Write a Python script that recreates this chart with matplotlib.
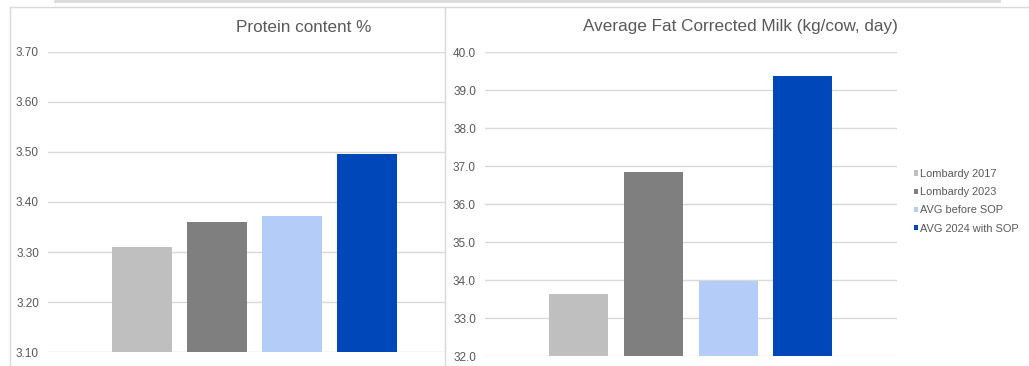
import matplotlib
matplotlib.use("Agg")
import matplotlib.pyplot as plt
from matplotlib.lines import Line2D

# Series (one bar per series in each panel)
series = ["Lombardy 2017", "Lombardy 2023", "AVG before SOP", "AVG 2024 with SOP"]
colors = ["#bfbfbf", "#7f7f7f", "#b4cdf8", "#0047b9"]

protein = [3.31, 3.36, 3.372, 3.495]
fcm = [33.63, 36.86, 33.98, 39.38]

protein_ticks = [3.10, 3.20, 3.30, 3.40, 3.50, 3.60, 3.70]
fcm_ticks = [32.0, 33.0, 34.0, 35.0, 36.0, 37.0, 38.0, 39.0, 40.0]

W, H = 1029, 366
TXT = "#595959"
GRID = "#d9d9d9"

plt.rcParams["font.family"] = ["Liberation Sans", "DejaVu Sans"]

fig = plt.figure(figsize=(W / 100, H / 100), dpi=100)
fig.patch.set_facecolor("white")


def px_rect(x0, x1, y_top, y_bot):
    return [x0 / W, 1 - y_bot / H, (x1 - x0) / W, (y_bot - y_top) / H]


def style_axis(ax, ticks, fmt, ymin, ymax, fontsize):
    ax.set_ylim(ymin, ymax)
    ax.set_yticks(ticks)
    ax.set_yticklabels([fmt.format(t) for t in ticks], color=TXT, fontsize=fontsize)
    ax.tick_params(axis="y", length=0, pad=6.5)
    ax.set_xticks([])
    for s in ax.spines.values():
        s.set_visible(False)
    ax.grid(axis="y", color=GRID, linewidth=1.0)
    ax.set_axisbelow(True)
    ax.patch.set_alpha(0)


x = list(range(len(series)))

# Left panel: protein content
ax1 = fig.add_axes(px_rect(48, 445, 51.7, 352.3))
ax1.bar(x, protein, width=0.79, color=colors)
style_axis(ax1, protein_ticks, "{:.2f}", 3.10, 3.70, 8.5)
ax1.set_xlim(-1.253, 4.04)

# Right panel: fat corrected milk
ax2 = fig.add_axes(px_rect(485, 897, 52.3, 356.3))
bars = ax2.bar(x, fcm, width=0.79, color=colors)
style_axis(ax2, fcm_ticks, "{:.1f}", 32.0, 40.0, 8.5)
ax2.set_xlim(-1.254, 4.261)

fig.text(304 / W, 1 - 27 / H, "Protein content %", ha="center", va="center",
         color=TXT, fontsize=12.3)
fig.text(740 / W, 1 - 26 / H, "Average Fat Corrected Milk (kg/cow, day)",
         ha="center", va="center", color=TXT, fontsize=12.3)

leg = fig.legend(bars, series, loc="upper left",
                 bbox_to_anchor=(914 / W, 1 - 169 / H),
                 frameon=False, fontsize=7.9, handlelength=0.38,
                 handleheight=0.38, handletextpad=0.2, labelspacing=0.75,
                 borderaxespad=0, borderpad=0)
for t in leg.get_texts():
    t.set_color(TXT)

# Panel frames
def fig_line(xs, ys, color=GRID, lw=1.0):
    fig.add_artist(Line2D([v / W for v in xs], [1 - v / H for v in ys],
                          color=color, linewidth=lw, transform=fig.transFigure))

fig_line([55, 999], [1, 1], lw=2.0)
fig_line([10, 1029], [7, 7])
fig_line([10, 10], [7, 366])
fig_line([445, 445], [7, 366])

fig.savefig("out.png", dpi=100, facecolor="white")
